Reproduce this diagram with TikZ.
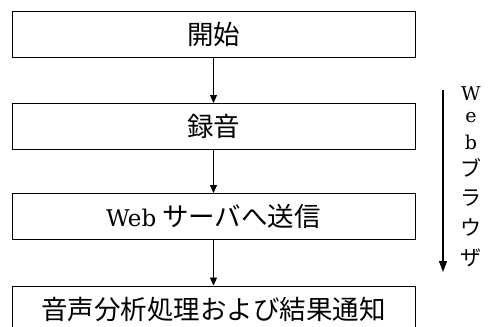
\documentclass[tikz,border=0pt]{standalone}
\usepackage{fontspec}
\newfontfamily\jp{Noto Sans CJK JP}
\newfontfamily\lat{DejaVu Serif}
\usetikzlibrary{arrows.meta}
\begin{document}
\begin{tikzpicture}[x=1pt,y=-1pt,
  stepbox/.style={draw,line width=1pt,minimum width=403pt,minimum height=46pt,inner sep=0pt,font=\jp\fontsize{26.5}{28}\selectfont},
  flow/.style={draw,line width=0.8pt,-{Triangle[length=8pt,width=7pt]}},
  vchar/.style={inner sep=0pt,font=\lat\fontsize{19}{20}\selectfont},
  vkana/.style={inner sep=0pt,font=\jp\fontsize{21}{22}\selectfont}]
\useasboundingbox (0,0) rectangle (491,327);
\node[stepbox] (start) at (213.5,34.5) {開始};
\node[stepbox] (rec) at (213.5,126.5) {録音};
\node[stepbox] (send) at (213.5,216.5) {{\lat\fontsize{23}{28}\selectfont Web} サーバへ送信};
\node[stepbox] (ana) at (213.5,309) {音声分析処理および結果通知};
\draw[flow] (start) -- (rec);
\draw[flow] (rec) -- (send);
\draw[flow] (send) -- (ana);
\coordinate (btop) at (443,90);
\coordinate (bbot) at (443,272);
\draw[line width=1.3pt,-{Triangle[length=11pt,width=8pt]}] (btop) -- (bbot);
\node[vchar] (c1) at (471,94) {W};
\node[vchar] (c2) at (471,118) {e};
\node[vchar] (c3) at (471,142) {b};
\node[vkana] (c4) at (471,168) {ブ};
\node[vkana] (c5) at (471,198) {ラ};
\node[vkana] (c6) at (471,227) {ウ};
\node[vkana] (c7) at (471,258) {ザ};
\end{tikzpicture}
\end{document}
